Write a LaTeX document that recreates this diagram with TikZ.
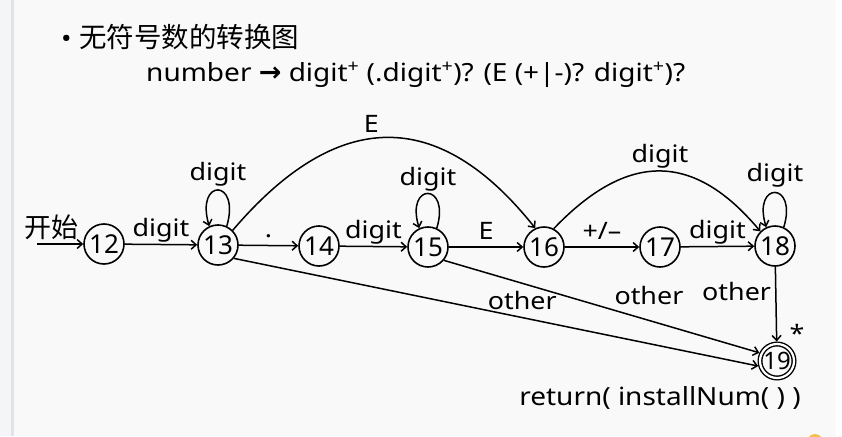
\documentclass[tikz,border=0pt]{standalone}
\usepackage{fontspec}
\setmainfont[FakeStretch=1.12]{Noto Sans}
\newfontfamily\numfont{Noto Sans}
\newfontfamily\cjk{Noto Sans CJK SC}
\newfontfamily\dejavu{DejaVu Sans Bold}
\usetikzlibrary{arrows.meta}
\definecolor{bgc}{HTML}{F9F9F9}
\definecolor{stripc}{HTML}{E1E3E8}
\definecolor{leftc}{HTML}{F4F5F7}
\definecolor{yel}{HTML}{F2C14E}
\begin{document}
\begin{tikzpicture}[x=1pt,y=-1pt,
  st/.style={circle,draw,line width=1.6pt,minimum size=40pt,inner sep=0pt,font=\numfont\fontsize{26}{28}\selectfont},
  fin/.style={circle,draw,line width=1.4pt,double,double distance=2.2pt,minimum size=34pt,inner sep=0pt,outer sep=2.5pt,font=\numfont\fontsize{24}{26}\selectfont},
  ed/.style={line width=1.5pt,-{Straight Barb[length=5pt,width=9pt,line width=1.5pt]}},
  lab/.style={font=\fontsize{24}{26}\selectfont,inner sep=1pt,text depth=6pt,text height=17pt},
  txt/.style={font=\fontsize{25}{28}\selectfont,inner sep=0pt}]
\useasboundingbox (0,0) rectangle (842,436);
\fill[bgc] (0,0) rectangle (842,436);
\fill[leftc] (0,0) rectangle (11,436);
\fill[stripc] (11,0) rectangle (14,436);
\fill[white] (836,0) rectangle (842,436);
\begin{scope}
\clip (0,0) rectangle (842,436);
\fill[yel] (815,442) circle (8);
\end{scope}

\node[txt,anchor=west] (title) at (61,37) {\textbullet\ {\cjk\fontsize{27.5}{28}\selectfont 无符号数的转换图}};
\node[txt,anchor=west] (formula) at (146,75) {number {\dejavu\fontsize{27}{28}\selectfont →} digit\textsuperscript{+} (.digit\textsuperscript{+})? (E (+|-)? digit\textsuperscript{+})?};

\node[st] (n12) at (104,244) {12};
\node[st] (n13) at (218,245) {13};
\node[st] (n14) at (319,246) {14};
\node[st] (n15) at (428,247) {15};
\node[st] (n16) at (544,247) {16};
\node[st] (n17) at (660,247) {17};
\node[st] (n18) at (775,246) {18};
\node[fin] (n19) at (777,361) {19};
\node[font=\fontsize{24}{26}\selectfont,inner sep=1pt] (star) at (797,333) {*};
\node[txt] (ret) at (660,398) {return( installNum( ) )};

\coordinate (start) at (37,244);
\draw[ed] (start) -- node[above,inner sep=1pt,xshift=-9pt,yshift=2pt,font=\cjk\fontsize{27}{28}\selectfont] {开始} (n12);
\draw[ed] (n12) -- node[lab,above] {digit} (n13);
\draw[ed] (n13) -- node[lab,above] {.} (n14);
\draw[ed] (n14) -- node[lab,above] {digit} (n15);
\draw[ed] (n15) -- node[lab,above] {E} (n16);
\draw[ed] (n16) -- node[lab,above] {+/–} (n17);
\draw[ed] (n17) -- node[lab,above] {digit} (n18);

\draw[ed] (n13.65) .. controls +(14,-48) and +(-14,-48) .. node[lab,above,yshift=2pt] {digit} (n13.115);
\draw[ed] (n15.65) .. controls +(14,-46) and +(-14,-46) .. node[lab,above] {digit} (n15.115);
\draw[ed] (n18.65) .. controls +(14,-46) and +(-14,-46) .. node[lab,above,yshift=3pt] {digit} (n18.115);

\draw[ed] (n13.45) .. controls (337,108) and (438,106) .. node[lab,above,pos=0.45,yshift=-2pt] {E} (n16.115);
\draw[ed] (n16.62) .. controls (628,151) and (694,152) .. node[lab,above,yshift=1pt] {digit} (n18.135);

\draw[ed] (n13.-40) -- node[font=\fontsize{24}{26}\selectfont,inner sep=1pt,pos=0.55,above,yshift=6pt] {other} (n19.195);
\draw[ed] (n15.-40) -- node[font=\fontsize{24}{26}\selectfont,inner sep=1pt,pos=0.65,above,yshift=14pt] {other} (n19.155);
\draw[ed] (n18) -- node[font=\fontsize{24}{26}\selectfont,inner sep=1pt,left,pos=0.33,xshift=-3pt] {other} (n19);
\end{tikzpicture}
\end{document}
